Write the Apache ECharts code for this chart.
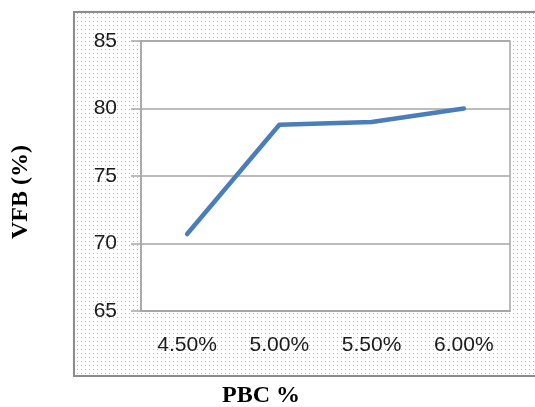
<!DOCTYPE html>
<html><head><meta charset="utf-8">
<script src="https://cdn.jsdelivr.net/npm/echarts@6/dist/echarts.min.js"></script>
<style>html,body{margin:0;padding:0;background:#fff}#c{width:535px;height:407px}</style>
</head><body><div id="c"></div>
<script>
const categories = ['4.50%', '5.00%', '5.50%', '6.00%'];
const vfbValues = [70.7, 78.8, 79.0, 80.0];
const yTicks = { min: 65, max: 85, interval: 5 };
const xTitle = 'PBC %';
const yTitle = 'VFB (%)';

const pc = document.createElement('canvas');
pc.width = 4; pc.height = 4;
const pctx = pc.getContext('2d');
pctx.fillStyle = '#ffffff'; pctx.fillRect(0,0,4,4);
pctx.fillStyle = '#9dbbe6'; pctx.fillRect(1,1,1,1);

const chart = echarts.init(document.getElementById('c'), null, {renderer:'canvas'});
const labelFont = { fontFamily: 'Liberation Sans', fontSize: 21, color: '#1a1a1a' };
chart.setOption({
  animation: false,
  backgroundColor: '#fff',
  graphic: [
    { type: 'rect', z: -10, shape: { x: 74, y: 12, width: 480, height: 364 },
      style: { fill: { image: pc, repeat: 'repeat' }, stroke: '#8c8c8c', lineWidth: 2 } },
    { type: 'text', x: 261, y: 396, style: { text: xTitle, font: 'bold 24px "Liberation Serif"', fill: '#000', align: 'center', verticalAlign: 'middle' } },
    { type: 'text', x: 21, y: 192, rotation: Math.PI/2, style: { text: yTitle, font: 'bold 24px "Liberation Serif"', fill: '#000', align: 'center', verticalAlign: 'middle' } }
  ],
  grid: { left: 141, top: 41, right: 25, bottom: 96, show: true, backgroundColor: '#fff', borderColor: '#a6a6a6', borderWidth: 1.5 },
  xAxis: {
    type: 'category', data: categories, boundaryGap: true,
    axisLine: { lineStyle: { color: '#a6a6a6', width: 1.5 } },
    axisTick: { length: 6, lineStyle: { color: '#a6a6a6', width: 1.5 } },
    axisLabel: Object.assign({ margin: 24 }, labelFont)
  },
  yAxis: {
    type: 'value', min: yTicks.min, max: yTicks.max, interval: yTicks.interval,
    axisLine: { show: true, lineStyle: { color: '#a6a6a6', width: 1.5 } },
    axisTick: { show: true, length: 10, lineStyle: { color: '#a6a6a6', width: 1.5 } },
    splitLine: { lineStyle: { color: '#a6a6a6', width: 1.5 } },
    axisLabel: Object.assign({ margin: 24 }, labelFont)
  },
  series: [{
    type: 'line', data: vfbValues, symbol: 'none', smooth: false,
    lineStyle: { color: '#4a7ebb', width: 4.5, cap: 'round', join: 'round' }
  }]
});
</script></body></html>
